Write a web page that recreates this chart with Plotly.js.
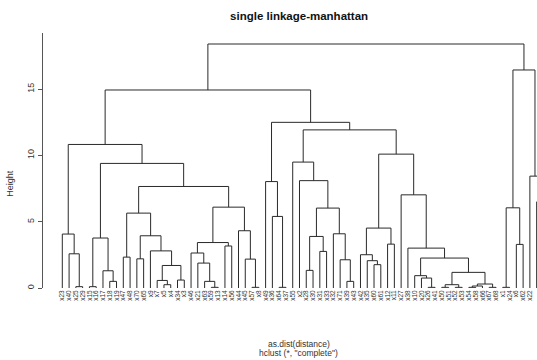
<!DOCTYPE html>
<html>
<head>
<meta charset="utf-8">
<script src="https://cdn.plot.ly/plotly-3.0.1.min.js"></script>
<style>html,body{margin:0;padding:0;background:#fff;}#chart{width:537px;height:360px;}</style>
</head>
<body>
<div id="chart"></div>
<script>
// Leaf labels in dendrogram order (left to right)
const leafLabels = ["x23","x40","x25","x29","x15","x16","x17","x18","x19","x47",
  "x48","x70","x65","x9","x7","x5","x4","x34","x3","x46",
  "x21","x63","x59","x13","x14","x56","x44","x45","x57","x8",
  "x49","x36","x64","x37","x55","x2","x28","x30","x31","x33",
  "x32","x71","x39","x43","x42","x35","x60","x61","x12","x11",
  "x27","x38","x10","x20","x26","x41","x50","x51","x52","x53",
  "x54","x58","x66","x67","x68","x1","x24","x6","x62","x22",
  "x69","x72"];

// hclust-style merge table: negative = leaf (1-based position in order), positive = earlier merge row
const mergeLeft  = [-3,-2,-1,-5,-8,-7,4,-10,-12,-16,
  -15,-18,11,-14,9,8,-23,-22,-21,-20,
  -25,20,-29,-28,-27,22,16,7,3,-33,
  -32,-31,-37,-39,33,-43,-42,-41,35,-36,
  -35,-47,-46,-45,-49,44,-55,-54,-53,-57,
  -59,50,-61,53,-64,54,52,49,-52,-51,
  46,41,32,29,-66,-68,65,-71,-70,67,
  64];
const mergeRight = [-4,1,2,-6,-9,5,6,-11,-13,-17,
  10,-19,12,13,14,15,-24,17,18,19,
  -26,21,-30,23,24,25,26,27,28,-34,
  30,31,-38,-40,34,-44,36,37,38,39,
  40,-48,42,43,-50,45,-56,47,48,-58,
  -60,51,-62,-63,-65,55,56,57,58,59,
  60,61,62,63,-67,-69,66,-72,68,69,
  70];
const mergeHeight = [0.10,2.58,4.07,0.10,0.50,1.30,3.77,2.33,2.20,0.25,
  0.57,0.60,1.70,2.80,3.94,5.65,0.05,0.50,1.88,2.64,
  3.17,3.43,0.05,2.18,4.32,6.10,7.66,9.40,10.83,0.05,
  5.40,8.03,1.33,2.76,3.89,0.50,2.13,4.09,6.03,8.10,
  9.50,1.76,2.06,2.51,3.31,4.52,0.05,0.75,0.93,0.05,
  0.05,0.25,0.05,0.15,0.05,0.30,1.18,2.26,3.01,7.03,
  10.10,11.93,12.50,14.94,0.05,3.29,6.05,6.50,8.44,16.45,
  18.41];

const yTicks = [0,5,10,15];

// Build dendrogram segments from the merge table
const nodeX = [], nodeH = [];
function pos(ref){
  if (ref < 0) return [(-ref) - 1, 0];
  return [nodeX[ref-1], nodeH[ref-1]];
}
const xs = [], ys = [];
for (let k = 0; k < mergeHeight.length; k++){
  const [xa, ha] = pos(mergeLeft[k]);
  const [xb, hb] = pos(mergeRight[k]);
  const h = mergeHeight[k];
  nodeX.push((xa + xb) / 2); nodeH.push(h);
  xs.push(xa, xa, xb, xb, null);
  ys.push(ha, h, h, hb, null);
}

const FONT = "Liberation Sans, Arial, Helvetica, sans-serif";
const leafIdx = leafLabels.map((_, i) => i);

const trace = {
  type: 'scatter', mode: 'lines', x: xs, y: ys,
  line: {color: '#2a2a2a', width: 1}, hoverinfo: 'skip', connectgaps: false
};

const layout = {
  width: 537, height: 360,
  margin: {l: 43, r: 0, t: 33, b: 72, pad: 0},
  paper_bgcolor: '#ffffff', plot_bgcolor: '#ffffff',
  showlegend: false,
  font: {family: FONT, color: '#222'},
  title: {
    text: '<b>single linkage-manhattan</b>',
    font: {family: FONT, size: 11.5, color: '#111'},
    x: 0.557, xanchor: 'center', xref: 'container',
    y: 0.956, yanchor: 'middle', yref: 'container'
  },
  xaxis: {
    range: [-2.85, 70.05], showgrid: false, zeroline: false, showline: false,
    tickmode: 'array', tickvals: leafIdx, ticktext: leafLabels,
    tickangle: -90, ticks: '', tickfont: {family: FONT, size: 6.5, color: '#333'},
    fixedrange: true
  },
  yaxis: {
    range: [0, 19.24], showgrid: false, zeroline: false,
    showline: true, linecolor: '#555', linewidth: 1,
    ticks: 'outside', ticklen: 4, tickcolor: '#555', tickwidth: 1,
    tickmode: 'array', tickvals: yTicks, ticktext: yTicks.map(String),
    tickangle: -90, tickfont: {family: FONT, size: 9, color: '#333'},
    fixedrange: true
  },
  annotations: [
    {text: 'Height', xref: 'paper', yref: 'paper', x: -0.067, y: 0.412,
     textangle: -90, showarrow: false, xanchor: 'center', yanchor: 'middle',
     font: {family: FONT, size: 9, color: '#333'}},
    {text: 'as.dist(distance)', xref: 'paper', yref: 'paper', x: 0.518, y: -0.2196,
     showarrow: false, xanchor: 'center', yanchor: 'middle',
     font: {family: FONT, size: 8.5, color: '#333'}},
    {text: 'hclust (*, "complete")', xref: 'paper', yref: 'paper', x: 0.518, y: -0.255,
     showarrow: false, xanchor: 'center', yanchor: 'middle',
     font: {family: FONT, size: 8.5, color: '#333'}}
  ]
};

Plotly.newPlot('chart', [trace], layout, {staticPlot: true, displayModeBar: false});
</script>
</body>
</html>
